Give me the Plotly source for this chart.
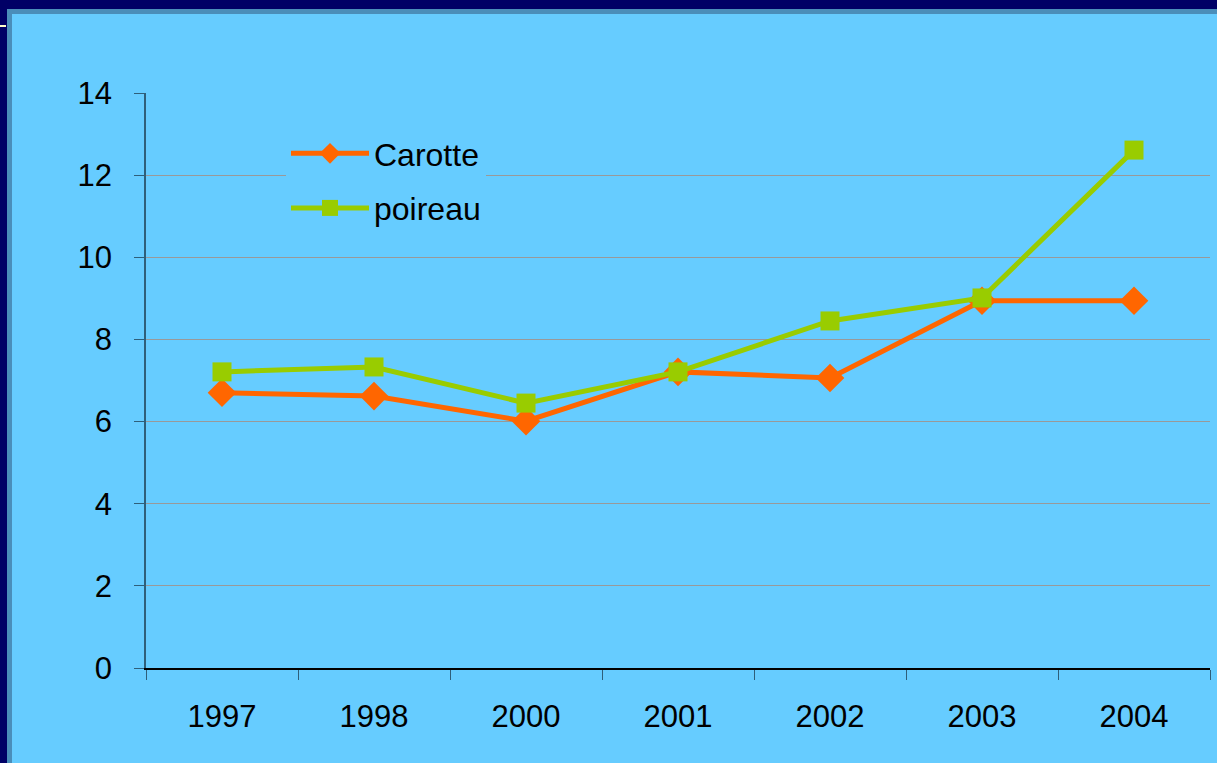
import plotly.graph_objects as go

years = ["1997", "1998", "2000", "2001", "2002", "2003", "2004"]
carotte = [6.70, 6.62, 6.01, 7.21, 7.06, 8.94, 8.94]
poireau = [7.21, 7.33, 6.45, 7.21, 8.45, 9.01, 12.61]

W, H = 1217, 763
L, R, T, B = 146, 7, 93, 95
PW, PH = W - L - R, H - T - B

NAVY = "#000066"
SKY = "#66CCFF"
FONT = "Liberation Sans, Arial, sans-serif"


def px(x):
    # pixel column -> paper x
    return (x - L) / PW


def py(y):
    # pixel row -> paper y
    return (H - B - y) / PH


fig = go.Figure()
fig.add_trace(go.Scatter(
    x=years, y=carotte, name="Carotte", mode="lines+markers",
    line=dict(color="#FF6600", width=5),
    marker=dict(symbol="diamond", size=22, color="#FF6600"),
    legendgroup="a",
))
fig.add_trace(go.Scatter(
    x=years, y=poireau, name="poireau", mode="lines+markers",
    line=dict(color="#99CC00", width=5),
    marker=dict(symbol="square", size=19, color="#99CC00"),
    legendgroup="b",
))

fig.update_layout(
    width=W, height=H,
    margin=dict(l=L, r=R, t=T, b=B),
    paper_bgcolor=NAVY,
    plot_bgcolor=SKY,
    font=dict(family=FONT, size=31, color="black"),
    showlegend=True,
    legend=dict(
        x=px(286), y=py(126), xanchor="left", yanchor="top",
        bgcolor=SKY, font=dict(size=32), itemwidth=78,
        traceorder="grouped", tracegroupgap=10,
    ),
    shapes=[
        dict(type="rect", xref="paper", yref="paper", layer="below",
             x0=px(9.5), x1=px(W + 5), y0=py(H + 5), y1=py(11.5),
             fillcolor=SKY, line=dict(color="#4A8EBA", width=5)),
        dict(type="line", xref="paper", yref="paper",
             x0=px(0), x1=px(6), y0=py(26), y1=py(26),
             line=dict(color="#FFFFCC", width=2)),
    ],
)
fig.update_xaxes(
    type="category", range=[-0.5, 6.5],
    showline=True, linecolor="black", linewidth=1.5,
    ticks="outside", tickson="boundaries", ticklen=10, tickcolor="#2F5F7A",
    showgrid=False, ticklabelstandoff=20,
)
fig.update_yaxes(
    range=[0, 14], dtick=2,
    showline=True, linecolor="#2F5F7A", linewidth=1.5,
    ticks="outside", ticklen=10, tickcolor="#2F5F7A",
    gridcolor="#999999", gridwidth=1, zeroline=False,
    ticklabelstandoff=16,
)

# the page body has a default 8px margin; drop it so the figure fills the window
fig.write_html(
    "out.html",
    config={"displayModeBar": False},
    post_script="document.body.style.margin='0';",
)
